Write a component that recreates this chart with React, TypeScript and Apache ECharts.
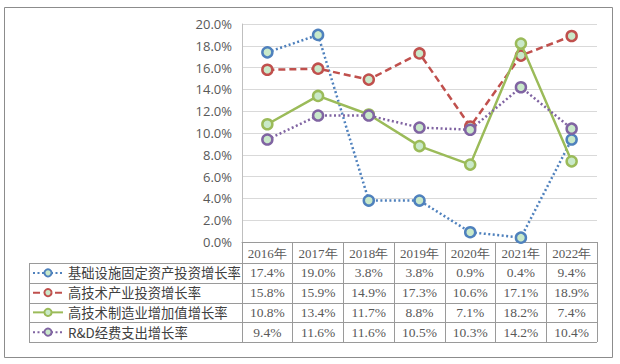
import React, { useEffect, useRef } from "react";
import * as echarts from "echarts";

const categories = ["2016年", "2017年", "2018年", "2019年", "2020年", "2021年", "2022年"];
const seriesNames = ["基础设施固定资产投资增长率", "高技术产业投资增长率", "高技术制造业增加值增长率", "R&D经费支出增长率"];
const infraGrowth = [17.4, 19.0, 3.8, 3.8, 0.9, 0.4, 9.4];
const hiTechInvest = [15.8, 15.9, 14.9, 17.3, 10.6, 17.1, 18.9];
const hiTechMfg = [10.8, 13.4, 11.7, 8.8, 7.1, 18.2, 7.4];
const rdGrowth = [9.4, 11.6, 11.6, 10.5, 10.3, 14.2, 10.4];
const yTicks = [0, 2, 4, 6, 8, 10, 12, 14, 16, 18, 20];

const colors = ["#4F81BD", "#C0504D", "#9BBB59", "#8064A2"];
const dashes: any[] = [[2, 2.5], [7, 4], "solid", [2, 2.5]];
const markerFill = "#c9e9c9";

export default function App() {
  const ref = useRef<HTMLDivElement>(null);
  useEffect(() => {
    if (!ref.current) return;
    const chart = echarts.init(ref.current, null, { renderer: "svg" });
    const gridLeft = 242;
    const gridTop = 24;
    const gridW = 355;
    const gridH = 218;
    const tableLeft = 29;
    const headerH = 21;
    const rowH = 19.75;
    const cellW = gridW / categories.length;
    const dataSets = [infraGrowth, hiTechInvest, hiTechMfg, rdGrowth];
    const tableLine = "#9a9a9a";
    const rowTop = gridTop + gridH + headerH;

    const graphics: any[] = [];
    graphics.push({
      type: "rect",
      shape: { x: 4.5, y: 7.5, width: 608, height: 350 },
      style: { fill: "none", stroke: "#8c8c8c", lineWidth: 1 },
      silent: true,
    });
    for (let r = 0; r <= dataSets.length; r++) {
      const y = Math.round(rowTop + r * rowH) + 0.5;
      graphics.push({
        type: "line",
        shape: { x1: tableLeft, y1: y, x2: gridLeft + gridW, y2: y },
        style: { stroke: tableLine, lineWidth: 1 },
        silent: true,
      });
    }
    graphics.push({
      type: "line",
      shape: { x1: tableLeft + 0.5, y1: rowTop, x2: tableLeft + 0.5, y2: rowTop + 4 * rowH },
      style: { stroke: tableLine, lineWidth: 1 },
      silent: true,
    });
    dataSets.forEach((vals, r) => {
      const cy = rowTop + rowH * (r + 0.5);
      graphics.push({
        type: "line",
        shape: { x1: 33, y1: cy, x2: 63, y2: cy },
        style: {
          stroke: colors[r],
          lineWidth: 2,
          lineDash: dashes[r] === "solid" ? null : dashes[r],
        },
        silent: true,
      });
      graphics.push({
        type: "circle",
        shape: { cx: 48, cy, r: 3.6 },
        style: { fill: markerFill, stroke: colors[r], lineWidth: 2 },
        silent: true,
      });
      graphics.push({
        type: "text",
        x: 68,
        y: cy,
        style: {
          text: seriesNames[r],
          font: '13.3px "Noto Sans CJK SC"',
          fill: "#404040",
          verticalAlign: "middle",
          align: "left",
        },
        silent: true,
      });
      vals.forEach((v, c) => {
        graphics.push({
          type: "text",
          x: gridLeft + cellW * (c + 0.5),
          y: cy,
          style: {
            text: v.toFixed(1) + "%",
            font: '13.5px "Liberation Serif"',
            fill: "#595959",
            verticalAlign: "middle",
            align: "center",
          },
          silent: true,
        });
      });
    });

    chart.setOption({
      animation: false,
      backgroundColor: "#ffffff",
      grid: { left: gridLeft, top: gridTop, width: gridW, height: gridH, containLabel: false },
      xAxis: {
        type: "category",
        data: categories,
        boundaryGap: true,
        axisLine: { show: true, lineStyle: { color: tableLine, width: 1 } },
        axisTick: { show: true, length: headerH + 4 * rowH, interval: 0, lineStyle: { color: tableLine } },
        axisLabel: {
          interval: 0,
          margin: 4,
          fontFamily: "Liberation Serif",
          fontSize: 13,
          color: "#595959",
          lineHeight: 14,
        },
      },
      yAxis: {
        type: "value",
        min: yTicks[0],
        max: yTicks[yTicks.length - 1],
        interval: 2,
        axisLine: { show: true, lineStyle: { color: "#bfbfbf" } },
        axisTick: { show: false },
        splitLine: { show: true, lineStyle: { color: "#d9d9d9" } },
        axisLabel: {
          margin: 10,
          fontFamily: "Open Sans",
          fontSize: 13,
          color: "#595959",
          formatter: (v: number) => v.toFixed(1) + "%",
        },
      },
      series: dataSets.map((vals, i) => ({
        type: "line",
        name: seriesNames[i],
        data: vals,
        symbol: "circle",
        symbolSize: 10,
        itemStyle: { color: markerFill, borderColor: colors[i], borderWidth: 2.5 },
        lineStyle: { color: colors[i], width: 2.5, type: dashes[i] },
        z: 2 + i,
      })),
      graphic: graphics,
    });
    return () => chart.dispose();
  }, []);
  return (
    <div
      ref={ref}
      style={{ position: "fixed", left: 0, top: 0, width: 620, height: 364, background: "#fff" }}
    />
  );
}
